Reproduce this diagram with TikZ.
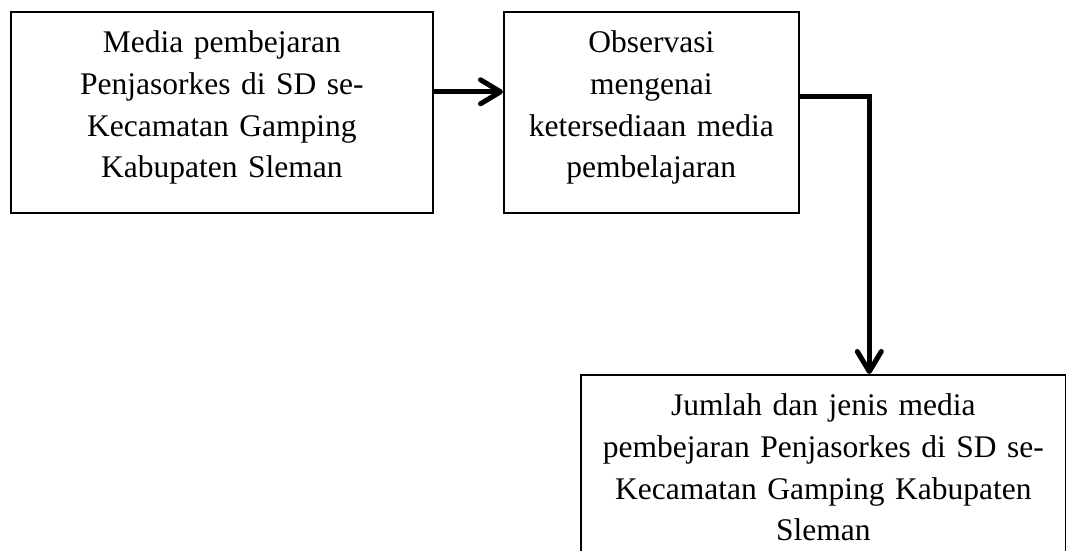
\documentclass[tikz,border=0pt]{standalone}
\usepackage{fontspec}
\setmainfont{Liberation Serif}
\usepackage{tikz}
\usetikzlibrary{arrows.meta}

\begin{document}
\begin{tikzpicture}[x=1pt, y=-1pt,
    kotak/.style={draw, line width=1.6pt, anchor=north west, minimum height=201pt,
        inner sep=0pt, align=center, text height=30pt, text depth=149pt,
        font=\fontsize{31.5}{41.7}\selectfont},
    panah/.style={line width=5pt,
        -{Straight Barb[length=20pt, width=24pt, line cap=round, line join=round]}}]
\useasboundingbox (0,0) rectangle (1066,551);

% kotak alur
\node[kotak, minimum width=422pt, text width=410pt] (media) at (10,11)
    {Media pembejaran\\Penjasorkes di SD se-\\Kecamatan Gamping\\Kabupaten Sleman};
\node[kotak, minimum width=295pt, text width=285pt] (obs) at (503,11)
    {Observasi\\mengenai\\ketersediaan media\\pembelajaran};
\node[kotak, minimum width=485pt, text width=475pt] (hasil) at (580,374)
    {Jumlah dan jenis media\\pembejaran Penjasorkes di SD se-\\Kecamatan Gamping Kabupaten\\Sleman};

% panah
\draw[panah] ([yshift=20.5pt]media.east) -- ([yshift=20.5pt]obs.west);
\draw[panah] ([yshift=15.5pt]obs.east) -| ([xshift=46pt]hasil.north);
\end{tikzpicture}
\end{document}
